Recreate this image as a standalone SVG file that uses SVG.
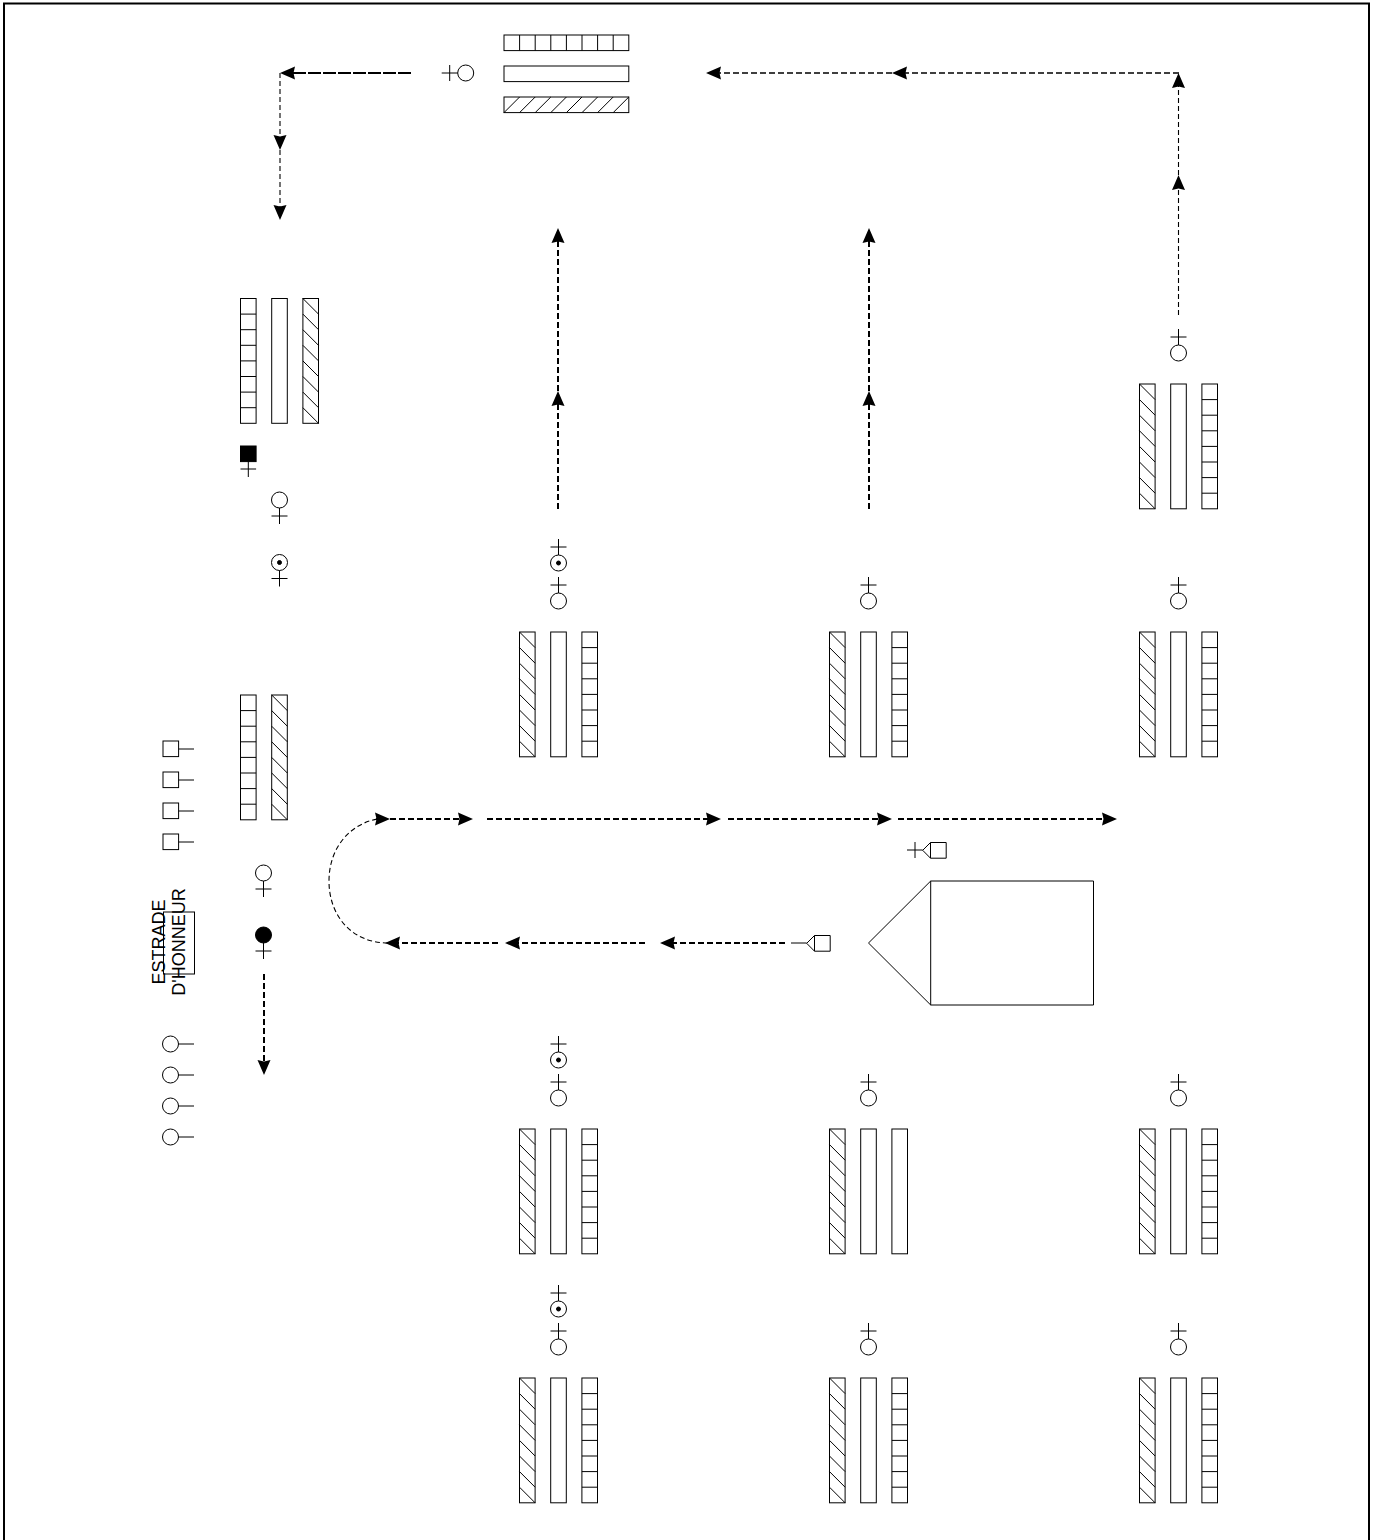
<svg xmlns="http://www.w3.org/2000/svg" width="1375" height="1540" viewBox="0 0 1375 1540">
<style>
.s{fill:#fff;stroke:#000;stroke-width:1}
.n{fill:none;stroke:#000;stroke-width:1}
.k{fill:#000;stroke:#000;stroke-width:1}
.c{fill:none;stroke:#000}
.a{stroke-width:2;stroke-dasharray:6 3;marker-end:url(#ah)}
.m{stroke-width:1.5;stroke-dasharray:6 3;marker-end:url(#ah)}
.t{stroke-width:1.1;stroke-dasharray:5 3;marker-end:url(#ah)}
.l{stroke-width:2;stroke-dasharray:13 2;marker-end:url(#ah)}
.lb{font-family:"Liberation Sans",Arial,sans-serif;font-size:18px;fill:#000;text-anchor:middle}
</style>
<defs>
<marker id="ah" markerUnits="userSpaceOnUse" markerWidth="16" markerHeight="14" refX="12" refY="7" orient="auto">
<path d="M15,7 L0,0.5 L1.5,7 L0,13.5 Z" fill="#000"/>
</marker>
<g id="vg"><rect class="s" width="15.6" height="124.8"/><path class="n" d="M0,15.6H15.6M0,31.2H15.6M0,46.8H15.6M0,62.4H15.6M0,78H15.6M0,93.6H15.6M0,109.2H15.6"/></g>
<g id="vp"><rect class="s" width="15.6" height="124.8"/></g>
<g id="vh"><rect class="s" width="15.6" height="124.8"/><path class="n" d="M0,0L15.6,15.6M0,15.6L15.6,31.2M0,31.2L15.6,46.8M0,46.8L15.6,62.4M0,62.4L15.6,78M0,78L15.6,93.6M0,93.6L15.6,109.2M0,109.2L15.6,124.8"/></g>
<g id="man"><circle class="s" cx="0" cy="16" r="8"/><path class="n" d="M0,8V-8M-8,0H8"/></g>
<g id="mand"><circle class="s" cx="0" cy="16" r="8"/><circle class="k" cx="0" cy="16" r="2"/><path class="n" d="M0,8V-8M-8,0H8"/></g>
<g id="fem"><circle class="s" cx="0" cy="0" r="8"/><path class="n" d="M0,8V24M-8,16H8"/></g>
<g id="femd"><circle class="s" cx="0" cy="0" r="8"/><circle class="k" cx="0" cy="0" r="2"/><path class="n" d="M0,8V24M-8,16H8"/></g>
<g id="femb"><circle class="k" cx="0" cy="0" r="8"/><path class="n" d="M0,8V24M-8,16H8"/></g>
<g id="blk"><use href="#vh" x="0"/><use href="#vp" x="31.2"/><use href="#vg" x="62.4"/></g>
</defs>

<path id="frame" d="M4,1545V3.5H1369V1545" fill="none" stroke="#000" stroke-width="2"/>

<g id="connectors">
<line class="c l" x1="411" y1="73" x2="283" y2="73"/>
<line class="c t" x1="280" y1="73" x2="280" y2="147"/>
<line class="c t" x1="280" y1="150" x2="280" y2="217"/>
<line class="c t" x1="1178.5" y1="315" x2="1178.5" y2="178"/>
<line class="c t" x1="1178.5" y1="175" x2="1178.5" y2="76"/>
<line class="c m" x1="1179" y1="73" x2="895" y2="73"/>
<line class="c m" x1="892" y1="73" x2="709" y2="73"/>
<line class="c a" x1="558" y1="509" x2="558" y2="394"/>
<line class="c a" x1="558" y1="391" x2="558" y2="231"/>
<line class="c a" x1="869" y1="509" x2="869" y2="394"/>
<line class="c a" x1="869" y1="391" x2="869" y2="231"/>
<path class="c" d="M388,943C352,943 329,916 329,881C329,846 352,823 378,819" stroke-width="1.1" stroke-dasharray="5 3"/>
<line class="c a" x1="376" y1="819" x2="387" y2="819"/>
<line class="c a" x1="390" y1="819" x2="470" y2="819"/>
<line class="c a" x1="487" y1="819" x2="718" y2="819"/>
<line class="c a" x1="728" y1="819" x2="889" y2="819"/>
<line class="c a" x1="898" y1="819" x2="1114" y2="819"/>
<line class="c a" x1="785" y1="943" x2="663" y2="943"/>
<line class="c a" x1="645" y1="943" x2="508" y2="943"/>
<line class="c a" x1="498" y1="943" x2="388" y2="943"/>
<line class="c a" x1="264" y1="974" x2="264" y2="1072"/>
</g>

<g id="flag-top">
<rect class="s" x="504" y="35" width="124.8" height="15.6"/>
<path class="n" d="M519.6,35V50.6M535.2,35V50.6M550.8,35V50.6M566.4,35V50.6M582,35V50.6M597.6,35V50.6M613.2,35V50.6"/>
<rect class="s" x="504" y="66" width="124.8" height="15.6"/>
<rect class="s" x="504" y="97" width="124.8" height="15.6"/>
<path class="n" d="M504,112.6L519.6,97M519.6,112.6L535.2,97M535.2,112.6L550.8,97M550.8,112.6L566.4,97M566.4,112.6L582,97M582,112.6L597.6,97M597.6,112.6L613.2,97M613.2,112.6L628.8,97"/>
</g>
<g id="man-top"><circle class="s" cx="465.7" cy="73" r="8"/><path class="n" d="M457.7,73H441.7M449.7,65V81"/></g>

<g id="flag-left-1"><use href="#vg" x="240.5" y="298.5"/><use href="#vp" x="271.7" y="298.5"/><use href="#vh" x="302.9" y="298.5"/></g>
<g id="standard-black"><rect class="k" x="240.5" y="446" width="15.6" height="15.6"/><path class="n" d="M248.3,461.6V477M240.5,469H256.1"/></g>
<use id="fem-1" href="#fem" x="279.5" y="500"/>
<use id="fem-2" href="#femd" x="279.5" y="562.5"/>

<g id="flag-left-2"><use href="#vg" x="240.5" y="695"/><use href="#vh" x="271.7" y="695"/></g>
<use id="fem-3" href="#fem" x="263.5" y="873"/>
<use id="fem-4" href="#femb" x="263.5" y="935"/>

<g id="sq-1"><rect class="s" x="163" y="741" width="15.6" height="15.6"/><path class="n" d="M178.6,749H194"/></g>
<g id="sq-2"><rect class="s" x="163" y="772" width="15.6" height="15.6"/><path class="n" d="M178.6,780H194"/></g>
<g id="sq-3"><rect class="s" x="163" y="803" width="15.6" height="15.6"/><path class="n" d="M178.6,811H194"/></g>
<g id="sq-4"><rect class="s" x="163" y="834" width="15.6" height="15.6"/><path class="n" d="M178.6,842H194"/></g>

<g id="estrade"><rect class="n" x="163.5" y="912" width="31" height="62"/>
<text class="lb" transform="translate(165,942) rotate(-90)">ESTRADE</text>
<text class="lb" transform="translate(185,942) rotate(-90)">D'HONNEUR</text></g>

<g id="ci-1"><circle class="s" cx="170.5" cy="1044" r="8"/><path class="n" d="M178.5,1044H194"/></g>
<g id="ci-2"><circle class="s" cx="170.5" cy="1075" r="8"/><path class="n" d="M178.5,1075H194"/></g>
<g id="ci-3"><circle class="s" cx="170.5" cy="1106" r="8"/><path class="n" d="M178.5,1106H194"/></g>
<g id="ci-4"><circle class="s" cx="170.5" cy="1137" r="8"/><path class="n" d="M178.5,1137H194"/></g>

<g id="block-1-1"><use href="#blk" x="519.5" y="632"/><use href="#man" x="558.5" y="585"/><use href="#mand" x="558.5" y="547"/></g>
<g id="block-1-2"><use href="#blk" x="829.5" y="632"/><use href="#man" x="868.5" y="585"/></g>
<g id="block-1-3"><use href="#blk" x="1139.5" y="632"/><use href="#man" x="1178.5" y="585"/></g>
<g id="block-0-3"><use href="#blk" x="1139.5" y="384"/><use href="#man" x="1178.5" y="337"/></g>

<g id="block-2-1"><use href="#blk" x="519.5" y="1129"/><use href="#man" x="558.5" y="1082"/><use href="#mand" x="558.5" y="1044"/></g>
<g id="block-2-2"><use href="#vh" x="829.5" y="1129"/><use href="#vp" x="860.7" y="1129"/><use href="#vp" x="891.9" y="1129"/><use href="#man" x="868.5" y="1082"/></g>
<g id="block-2-3"><use href="#blk" x="1139.5" y="1129"/><use href="#man" x="1178.5" y="1082"/></g>

<g id="block-3-1"><use href="#blk" x="519.5" y="1378"/><use href="#man" x="558.5" y="1331"/><use href="#mand" x="558.5" y="1293"/></g>
<g id="block-3-2"><use href="#blk" x="829.5" y="1378"/><use href="#man" x="868.5" y="1331"/></g>
<g id="block-3-3"><use href="#blk" x="1139.5" y="1378"/><use href="#man" x="1178.5" y="1331"/></g>

<g id="vehicle"><path class="s" d="M930.7,881H1093.5V1005H930.7L868.5,943Z"/><path class="n" d="M930.7,881V1005"/></g>
<g id="veh-small-1"><path class="s" d="M814.5,935.5H830.2V951.2H814.5L806.7,943.3Z"/><path class="n" d="M814.5,935.5V951.2M806.7,943H791"/></g>
<g id="veh-small-2"><path class="s" d="M930.5,842.5H946.2V858.2H930.5L922.7,850.3Z"/><path class="n" d="M930.5,842.5V858.2M922.7,850H907M915,842V858"/></g>
</svg>
